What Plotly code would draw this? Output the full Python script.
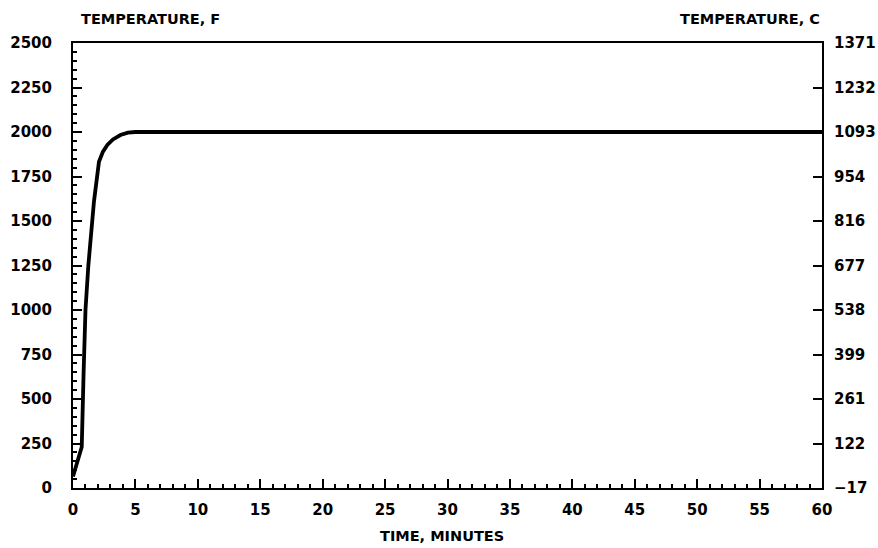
import plotly.graph_objects as go

# Data
time_min = [0, 0.35, 0.7, 0.85, 1.0, 1.23, 1.45, 1.68, 2.08, 2.4, 2.75, 3.2, 3.8, 4.4, 5.0, 10, 20, 30, 40, 50, 60]
temp_f = [65, 150, 230, 650, 1000, 1250, 1430, 1610, 1833, 1890, 1927, 1958, 1983, 1996, 2000, 2000, 2000, 2000, 2000, 2000, 2000]

f_ticks = [0, 250, 500, 750, 1000, 1250, 1500, 1750, 2000, 2250, 2500]
c_tick_labels = ["\u221217", "122", "261", "399", "538", "677", "816", "954", "1093", "1232", "1371"]
x_ticks = list(range(0, 61, 5))

FONT = dict(family="DejaVu Sans", size=15, color="black", weight="bold")
TFONT = dict(family="DejaVu Sans", size=14.5, color="black", weight="bold")

fig = go.Figure()
fig.add_trace(go.Scatter(x=time_min, y=temp_f, mode="lines",
                         line=dict(color="black", width=3.8), showlegend=False,
                         hoverinfo="skip"))
# invisible trace for right axis
fig.add_trace(go.Scatter(x=[0], y=[0], yaxis="y2", mode="markers",
                         marker=dict(opacity=0), showlegend=False, hoverinfo="skip"))

fig.update_layout(
    width=878, height=548,
    paper_bgcolor="white", plot_bgcolor="white",
    margin=dict(l=73, r=56, t=43, b=60, autoexpand=False),
    font=FONT,
    xaxis=dict(range=[0, 60], tickvals=x_ticks, ticks="inside", ticklen=9, tickwidth=2,
               tickcolor="black", showline=True, linecolor="black", linewidth=2,
               mirror=True, showgrid=False, zeroline=False, tickfont=FONT,
               ticklabelstandoff=7, automargin=False,
               minor=dict(dtick=1, ticks="inside", ticklen=4, tickwidth=2, tickcolor="black", showgrid=False)),
    yaxis=dict(range=[0, 2500], tickvals=f_ticks, ticks="inside", ticklen=9, tickwidth=2,
               tickcolor="black", showline=True, linecolor="black", linewidth=2,
               mirror=True, showgrid=False, zeroline=False, tickfont=FONT,
               ticklabelstandoff=16, automargin=False,
               minor=dict(dtick=50, ticks="inside", ticklen=4, tickwidth=2, tickcolor="black", showgrid=False)),
    yaxis2=dict(range=[0, 2500], overlaying="y", side="right", tickvals=f_ticks,
                ticktext=c_tick_labels, ticks="inside", ticklen=9, tickwidth=2,
                tickcolor="black", showline=True, linecolor="black", linewidth=2,
                showgrid=False, zeroline=False, tickfont=FONT, ticklabelstandoff=7,
                automargin=False),
    annotations=[
        dict(text="TEMPERATURE, F", xref="paper", yref="paper", x=0.008, y=1.0,
             xanchor="left", yanchor="bottom", yshift=14, showarrow=False, font=TFONT),
        dict(text="TEMPERATURE, C", xref="paper", yref="paper", x=1.0, y=1.0,
             xanchor="right", yanchor="bottom", yshift=14, showarrow=False, font=TFONT),
        dict(text="TIME, MINUTES", xref="paper", yref="paper", x=0.492, y=0,
             xanchor="center", yanchor="top", yshift=-38, showarrow=False, font=TFONT),
    ],
)

fig.write_html("out.html", config={"displayModeBar": False},
               post_script="document.body.style.margin='0';")
